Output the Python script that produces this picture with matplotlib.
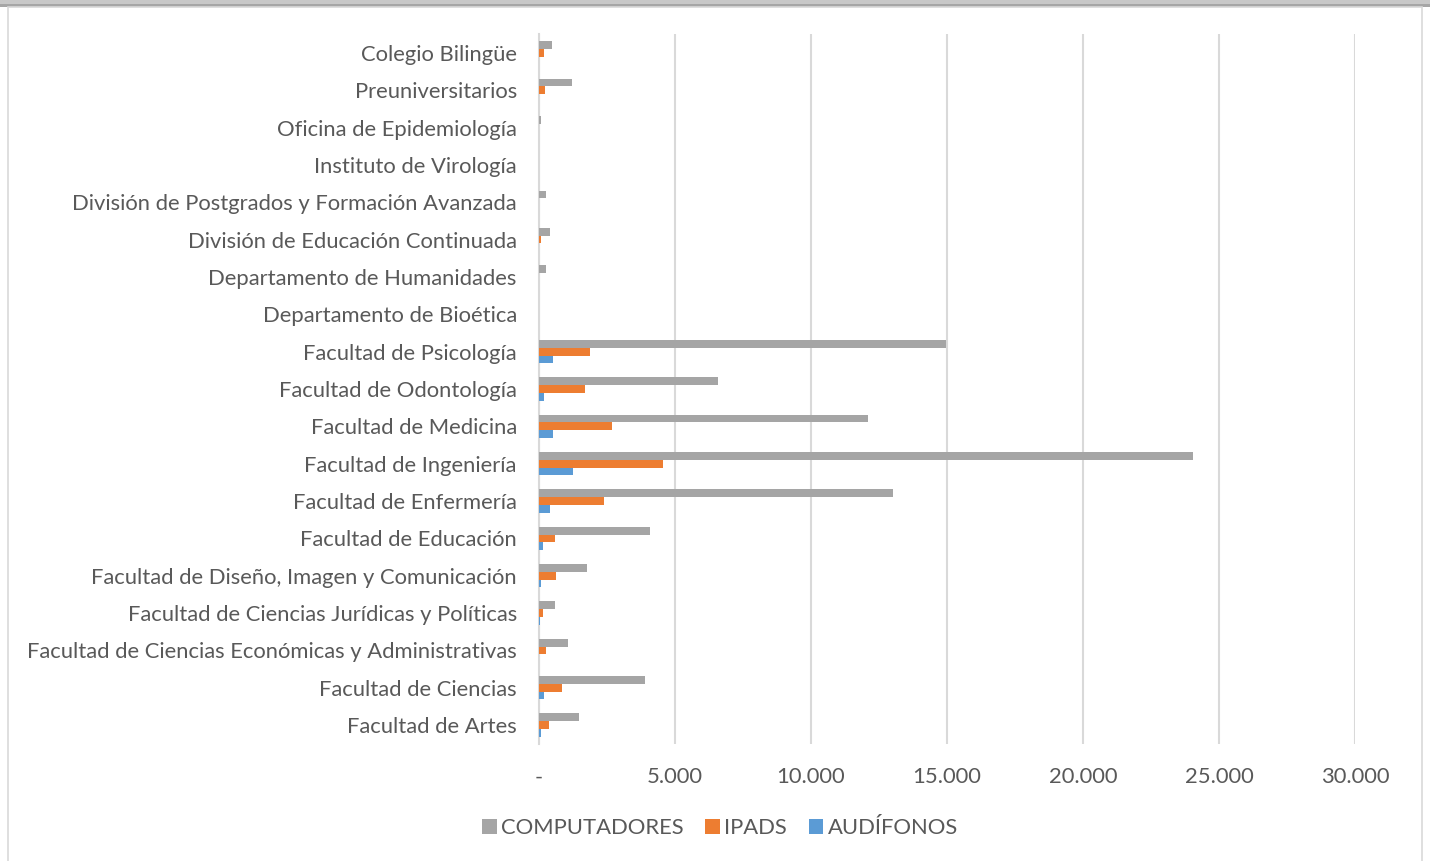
import matplotlib
matplotlib.use("Agg")
import matplotlib.pyplot as plt
from matplotlib.patches import Rectangle
import numpy as np

categories = [
    "Facultad de Artes",
    "Facultad de Ciencias",
    "Facultad de Ciencias Económicas y Administrativas",
    "Facultad de Ciencias Jurídicas y Políticas",
    "Facultad de Diseño, Imagen y Comunicación",
    "Facultad de Educación",
    "Facultad de Enfermería",
    "Facultad de Ingeniería",
    "Facultad de Medicina",
    "Facultad de Odontología",
    "Facultad de Psicología",
    "Departamento de Bioética",
    "Departamento de Humanidades",
    "División de Educación Continuada",
    "División de Postgrados y Formación Avanzada",
    "Instituto de Virología",
    "Oficina de Epidemiología",
    "Preuniversitarios",
    "Colegio Bilingüe",
]
computadores = [1470, 3900, 1050, 575, 1750, 4070, 13000, 24050, 12100, 6570, 14960,
                0, 245, 405, 270, 0, 85, 1210, 465]
ipads = [370, 830, 245, 160, 620, 590, 2390, 4570, 2670, 1690, 1890,
         0, 0, 60, 0, 0, 0, 220, 195]
audifonos = [70, 200, 10, 20, 60, 150, 415, 1260, 500, 180, 500,
             0, 0, 0, 0, 0, 0, 0, 0]
series_names = ["COMPUTADORES", "IPADS", "AUDÍFONOS"]
colors = ["#A5A5A5", "#ED7D31", "#5B9BD5"]
xticks = [0, 5000, 10000, 15000, 20000, 25000, 30000]
xticklabels = ["-", "5.000", "10.000", "15.000", "20.000", "25.000", "30.000"]

plt.rcParams['font.family'] = ['Lato', 'DejaVu Sans']
W, H = 1430, 861
fig = plt.figure(figsize=(W / 100, H / 100), dpi=100)

# frame decorations
fig.patches.append(Rectangle((0, (H - 5) / H), 1, 5 / H, transform=fig.transFigure,
                             facecolor="#C8C8C8", edgecolor="none", zorder=0))
fig.patches.append(Rectangle((0, (H - 6.5) / H), 1, 2.5 / H, transform=fig.transFigure,
                             facecolor="#A6A6A6", edgecolor="none", zorder=0))
fig.patches.append(Rectangle((8 / W, -0.01), (1422 - 8) / W, (H - 6.5) / H + 0.01,
                             transform=fig.transFigure, facecolor="none",
                             edgecolor="#D9D9D9", linewidth=1.2, zorder=0))

left, right = 539, 1355
top, bottom = 34.3, 743.7
ax = fig.add_axes([left / W, 1 - bottom / H, (right - left) / W, (bottom - top) / H])

y = np.arange(len(categories))
h = 0.206
for vals, off, c, name in zip([computadores, ipads, audifonos], [h, 0, -h], colors, series_names):
    ax.barh(y + off, vals, height=h, color=c, label=name, zorder=3)

fs = 15.8
ax.set_ylim(-0.5, len(categories) - 0.5)
ax.set_xlim(0, 30000)
ax.set_yticks(y)
ax.set_yticklabels(categories, fontsize=fs, color="#595959")
ax.set_xticks(xticks)
ax.set_xticklabels(xticklabels, fontsize=fs, color="#595959")
ax.tick_params(axis='both', length=0)
ax.tick_params(axis='y', pad=16)
ax.tick_params(axis='x', pad=17)
ax.grid(axis='x', color="#D9D9D9", linewidth=1.5, zorder=0)
for s in ["top", "right", "bottom"]:
    ax.spines[s].set_visible(False)
ax.spines["left"].set_color("#D9D9D9")
ax.spines["left"].set_linewidth(1.5)

leg = fig.legend(loc="center", bbox_to_anchor=(720 / W, 1 - 828 / H), ncol=3,
                 frameon=False, fontsize=fs, handlelength=0.65, handleheight=0.65,
                 handletextpad=0.2, columnspacing=1.0)
for t in leg.get_texts():
    t.set_color("#595959")

fig.savefig("out.png", dpi=100)
